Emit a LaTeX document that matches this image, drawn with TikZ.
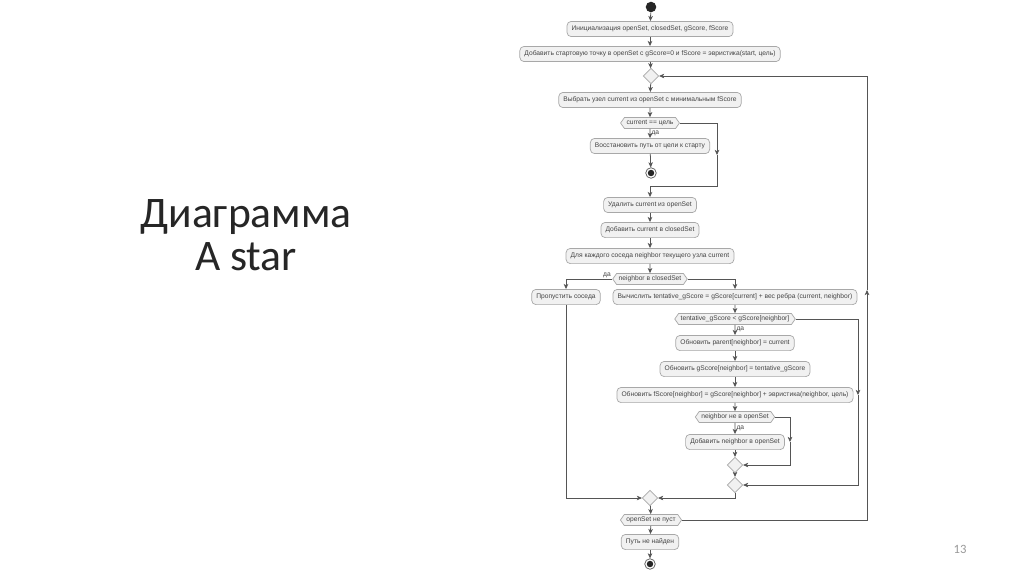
\documentclass[tikz,border=0pt]{standalone}
\usepackage{fontspec}
\setmainfont{Carlito}
\newfontfamily\umlfont{Liberation Sans}
\usetikzlibrary{arrows.meta}
\usetikzlibrary{shapes.geometric,shapes.symbols}
\definecolor{umlline}{HTML}{555555}
\definecolor{umlfill}{HTML}{F1F1F1}
\definecolor{umlborder}{HTML}{A8A8A8}
\definecolor{umltext}{HTML}{444444}
\colorlet{titletext}{black!85}
\colorlet{pagenum}{gray!80}

\begin{document}
\begin{tikzpicture}[x=0.025cm, y=-0.025cm,
    umltxt/.style={font=\umlfont\fontsize{4.75pt}{5.5pt}\selectfont, text=umltext},
    action/.style={umltxt, draw=umlborder, fill=umlfill, rounded corners=3pt,
        minimum height=10.8pt, inner xsep=3.3pt, inner ysep=0pt, line width=0.5pt},
    decision/.style={umltxt, signal, signal to=east and west, signal pointer angle=110,
        draw=umlborder, fill=umlfill, minimum height=7.8pt, inner xsep=1.5pt,
        inner ysep=0pt, line width=0.5pt},
    merge/.style={diamond, draw=umlborder, fill=umlfill, minimum width=11pt,
        minimum height=11pt, inner sep=0pt, line width=0.5pt},
    startdot/.style={circle, fill=black!85, minimum size=7.5pt, inner sep=0pt},
    stopdot/.style={circle, draw=umlline, fill=white, minimum size=7.5pt, inner sep=0pt,
        line width=0.5pt,
        path picture={\fill[black!85] (path picture bounding box.center) circle (2.3pt);}},
    wire/.style={draw=umlline, line width=0.55pt},
    flow/.style={wire, -{Stealth[length=3.6pt, width=3.2pt, inset=0.9pt]}},
    yeslbl/.style={umltxt, inner sep=0.8pt}]
    % page size and background
    \fill[white] (0,0) rectangle (1024,574);
    \useasboundingbox (0,0) rectangle (1024,574);
    % slide title and page number
    \node[font=\fontsize{31pt}{30.5pt}\selectfont, text=titletext, align=center] (title)
        at (246,235) {Диаграмма\\A star};
    \node[font=\fontsize{9pt}{10pt}\selectfont, text=pagenum] (page) at (960,549) {13};
    % main column
    \node[startdot] (start) at (651,7) {};
    \node[action] (init) at (650,29) {Инициализация openSet, closedSet, gScore, fScore};
    \node[action] (seed) at (650,54) {Добавить стартовую точку в openSet с gScore=0 и fScore = эвристика(start, цель)};
    \node[merge] (m0) at (651,76) {};
    \node[action] (pick) at (650,100) {Выбрать узел current из openSet с минимальным fScore};
    \node[decision] (isgoal) at (650,123) {current == цель};
    \node[action] (rebuild) at (650,146) {Восстановить путь от цели к старту};
    \node[stopdot] (stop1) at (651,173) {};
    \node[action] (remove) at (650,205) {Удалить current из openSet};
    \node[action] (close) at (650,230) {Добавить current в closedSet};
    \node[action] (each) at (650,256) {Для каждого соседа neighbor текущего узла current};
    \node[decision] (inclosed) at (650,279) {neighbor в closedSet};
    % neighbour branches
    \node[action] (skip) at (566,297) {Пропустить соседа};
    \node[action] (calc) at (735,297) {Вычислить tentative\_gScore = gScore[current] + вес ребра (current, neighbor)};
    \node[decision] (better) at (735,319) {tentative\_gScore < gScore[neighbor]};
    \node[action] (setparent) at (735,343) {Обновить parent[neighbor] = current};
    \node[action] (setg) at (735,369) {Обновить gScore[neighbor] = tentative\_gScore};
    \node[action] (setf) at (735,395) {Обновить fScore[neighbor] = gScore[neighbor] + эвристика(neighbor, цель)};
    \node[decision] (notopen) at (735,417) {neighbor не в openSet};
    \node[action] (addopen) at (735,442) {Добавить neighbor в openSet};
    \node[merge] (m1) at (735,465) {};
    \node[merge] (m2) at (735,485) {};
    \node[merge] (m3) at (650,498) {};
    % end of loop
    \node[decision] (nonempty) at (651,520) {openSet не пуст};
    \node[action] (fail) at (650,542) {Путь не найден};
    \node[stopdot] (stop2) at (650,564) {};

    % straight flow
    \draw[flow] (start) -- (init);
    \draw[flow] (init) -- (seed);
    \draw[flow] (seed) -- (m0);
    \draw[flow] (m0) -- (pick);
    \draw[flow] (pick) -- (isgoal);
    \draw[flow] (isgoal) -- (rebuild) node[yeslbl, pos=0.1, anchor=north west] {да};
    \draw[flow] (rebuild) -- (stop1);
    % goal not reached
    \coordinate (goalno) at (717,155);
    \coordinate (goaljoin) at (650,186);
    \draw[flow] (isgoal.east) -| (goalno);
    \draw[wire] (goalno) |- (goaljoin);
    \draw[flow] (goaljoin) -- (remove);
    \draw[flow] (remove) -- (close);
    \draw[flow] (close) -- (each);
    \draw[flow] (each) -- (inclosed);
    % closed or not
    \draw[flow] (inclosed.west) -| (skip) node[yeslbl, pos=0, anchor=south east] {да};
    \draw[flow] (inclosed.east) -| (calc);
    \draw[flow] (calc) -- (better);
    \draw[flow] (better) -- (setparent) node[yeslbl, pos=0.1, anchor=north west] {да};
    \draw[flow] (setparent) -- (setg);
    \draw[flow] (setg) -- (setf);
    \draw[flow] (setf) -- (notopen);
    \draw[flow] (notopen) -- (addopen) node[yeslbl, pos=0.1, anchor=north west] {да};
    \draw[flow] (addopen) -- (m1);
    \draw[flow] (m1) -- (m2);
    % already in openSet
    \coordinate (openno) at (790,442);
    \draw[flow] (notopen.east) -| (openno);
    \draw[flow] (openno) |- (m1.east);
    % no better path
    \coordinate (betterno) at (858,395);
    \draw[flow] (better.east) -| (betterno);
    \draw[flow] (betterno) |- (m2.east);
    % branches meet
    \draw[flow] (m2.south) |- (m3.east);
    \draw[flow] (skip) |- (m3.west);
    \draw[flow] (m3) -- (nonempty);
    % repeat while openSet is not empty
    \coordinate (loopup) at (867,290);
    \draw[flow] (nonempty.east) -| (loopup);
    \draw[flow] (loopup) |- (m0.east);
    \draw[flow] (nonempty) -- (fail);
    \draw[flow] (fail) -- (stop2);
\end{tikzpicture}
\end{document}
